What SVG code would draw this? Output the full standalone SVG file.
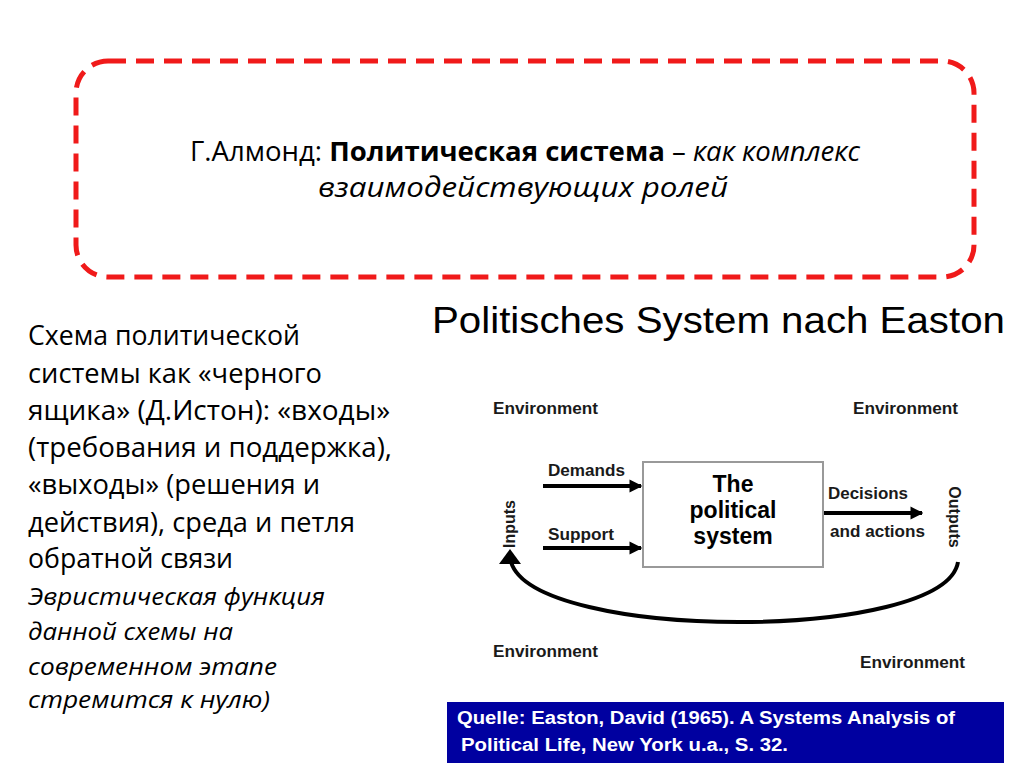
<svg xmlns="http://www.w3.org/2000/svg" width="1024" height="767" viewBox="0 0 1024 767">
<style>
.cal{font-family:"Open Sans","Liberation Sans",sans-serif;fill:#000}
.ar{font-family:"Liberation Sans",Arial,sans-serif;fill:#000}
.lbl{font-family:"Liberation Sans",Arial,sans-serif;font-weight:bold;font-size:16px;fill:#1a1a1a}
.arrow{stroke:#000;stroke-width:4;fill:none}
.reg{font-size:27px}
.it{font-size:24px;font-style:italic}
</style>
<defs>
<marker id="ah" viewBox="0 0 10 10" refX="9" refY="5" markerWidth="3.2" markerHeight="3.4" orient="auto" markerUnits="strokeWidth">
<path d="M0,0 L10,5 L0,10 z" fill="#000"/>
</marker>
</defs>
<rect width="1024" height="767" fill="#fff"/>
<g id="almond">
<rect x="76" y="61" width="898" height="216" rx="32" fill="none" stroke="#f01a1a" stroke-width="5" stroke-dasharray="18 10"/>
<text class="cal" font-size="27" x="525" y="161" text-anchor="middle" textLength="670" lengthAdjust="spacingAndGlyphs">Г.Алмонд: <tspan font-weight="bold">Политическая система</tspan> – <tspan font-style="italic">как комплекс</tspan></text>
<text class="cal" font-size="27" font-style="italic" x="523" y="197" text-anchor="middle" textLength="410" lengthAdjust="spacingAndGlyphs">взаимодействующих ролей</text>
</g>
<g id="left-text" class="cal">
<text class="reg" x="28" y="345" textLength="272" lengthAdjust="spacingAndGlyphs">Схема политической</text>
<text class="reg" x="28" y="383" textLength="294" lengthAdjust="spacingAndGlyphs">системы как «черного</text>
<text class="reg" x="28" y="420" textLength="362" lengthAdjust="spacingAndGlyphs">ящика» (Д.Истон): «входы»</text>
<text class="reg" x="28" y="457" textLength="364" lengthAdjust="spacingAndGlyphs">(требования и поддержка),</text>
<text class="reg" x="28" y="494" textLength="292" lengthAdjust="spacingAndGlyphs">«выходы» (решения и</text>
<text class="reg" x="28" y="532" textLength="327" lengthAdjust="spacingAndGlyphs">действия), среда и петля</text>
<text class="reg" x="28" y="568" textLength="205" lengthAdjust="spacingAndGlyphs">обратной связи</text>
<text class="it" x="28" y="605" textLength="297" lengthAdjust="spacingAndGlyphs">Эвристическая функция</text>
<text class="it" x="28" y="640" textLength="205" lengthAdjust="spacingAndGlyphs">данной схемы на</text>
<text class="it" x="28" y="675" textLength="249" lengthAdjust="spacingAndGlyphs">современном этапе</text>
<text class="it" x="28" y="708" textLength="242" lengthAdjust="spacingAndGlyphs">стремится к нулю)</text>
</g>
<g id="title">
<text class="ar" font-size="37" x="432" y="333" textLength="573" lengthAdjust="spacingAndGlyphs">Politisches System nach Easton</text>
</g>
<g id="environment-labels">
<text class="lbl" x="493" y="414" textLength="105" lengthAdjust="spacingAndGlyphs">Environment</text>
<text class="lbl" x="853" y="414" textLength="105" lengthAdjust="spacingAndGlyphs">Environment</text>
<text class="lbl" x="493" y="657" textLength="105" lengthAdjust="spacingAndGlyphs">Environment</text>
<text class="lbl" x="860" y="668" textLength="105" lengthAdjust="spacingAndGlyphs">Environment</text>
</g>
<g id="political-system">
<rect x="643" y="462" width="180" height="105" fill="#fff" stroke="#999" stroke-width="2"/>
<text class="ar" font-weight="bold" font-size="23" text-anchor="middle" x="733" y="492">The</text>
<text class="ar" font-weight="bold" font-size="23" text-anchor="middle" x="733" y="518">political</text>
<text class="ar" font-weight="bold" font-size="23" text-anchor="middle" x="733" y="544">system</text>
</g>
<g id="inputs">
<text class="lbl" x="548" y="476" textLength="77" lengthAdjust="spacingAndGlyphs">Demands</text>
<text class="lbl" x="548" y="540" textLength="66" lengthAdjust="spacingAndGlyphs">Support</text>
<text class="lbl" text-anchor="middle" transform="translate(515,524) rotate(-90)">Inputs</text>
</g>
<g id="outputs">
<text class="lbl" x="828" y="499" textLength="80" lengthAdjust="spacingAndGlyphs">Decisions</text>
<text class="lbl" x="830" y="537" textLength="95" lengthAdjust="spacingAndGlyphs">and actions</text>
<text class="lbl" text-anchor="middle" transform="translate(949,517) rotate(90)">Outputs</text>
</g>
<g id="connectors">
<line class="arrow" x1="543" y1="486" x2="641" y2="486" marker-end="url(#ah)"/>
<line class="arrow" x1="543" y1="548" x2="641" y2="548" marker-end="url(#ah)"/>
<line class="arrow" x1="824" y1="513" x2="922" y2="513" marker-end="url(#ah)"/>
<path class="arrow" d="M958,562 C945,642 535,642 511,562"/>
<polygon points="510,549 499,564 521,564" fill="#000"/>
</g>
<g id="source">
<rect x="447" y="702" width="557" height="61" fill="#0000a0"/>
<text class="ar" font-weight="bold" font-size="18" style="fill:#fff" x="457" y="724" textLength="498" lengthAdjust="spacingAndGlyphs">Quelle: Easton, David (1965). A Systems Analysis of</text>
<text class="ar" font-weight="bold" font-size="18" style="fill:#fff" x="461" y="751" textLength="327" lengthAdjust="spacingAndGlyphs">Political Life, New York u.a., S. 32.</text>
</g>
</svg>
